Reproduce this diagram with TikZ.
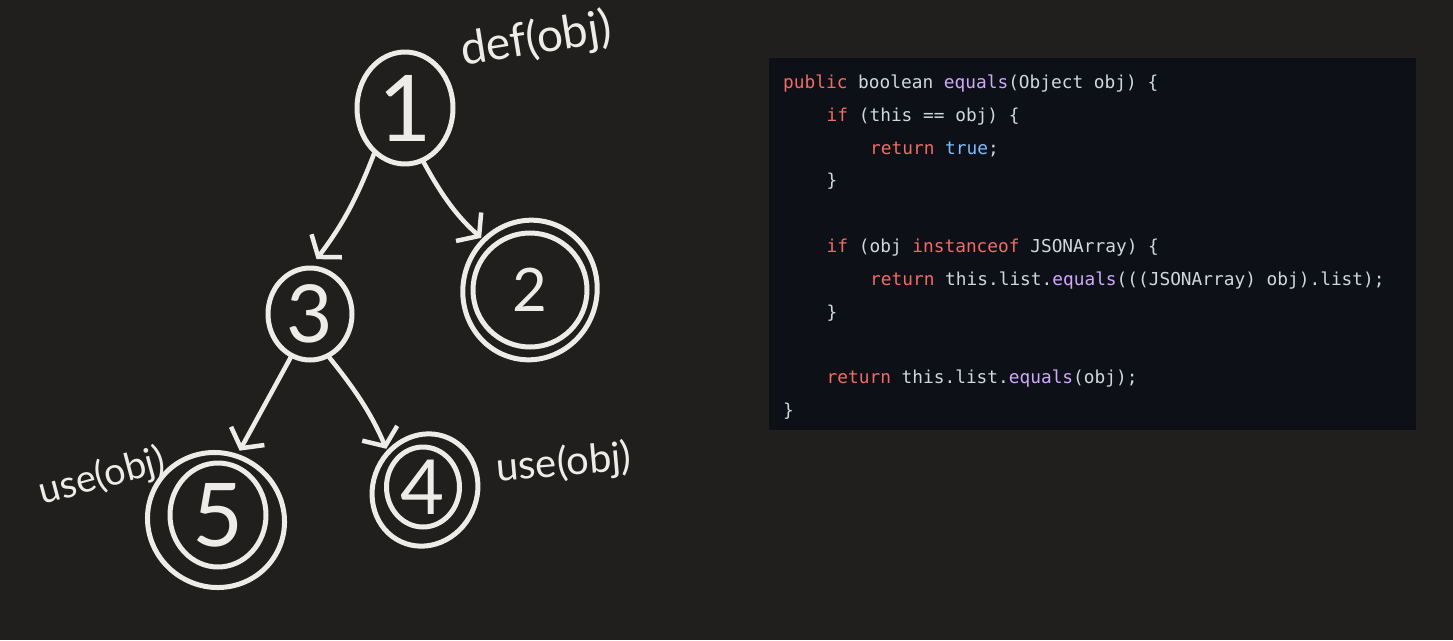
\documentclass[tikz,border=0pt]{standalone}
\usepackage{fontspec}
\setmonofont{DejaVu Sans Mono}
\newfontfamily\hand{Lato}
\usetikzlibrary{shapes.geometric,arrows.meta,calc}
\definecolor{bgc}{HTML}{201F1D}
\definecolor{codebg}{HTML}{0D1117}
\definecolor{inkc}{HTML}{EDECE8}
\definecolor{kw}{HTML}{F26B63}
\definecolor{fn}{HTML}{D2A8FF}
\definecolor{cst}{HTML}{79C0FF}
\definecolor{codetx}{HTML}{D0D7DE}
\newcommand{\K}[1]{\textcolor{kw}{#1}}
\newcommand{\F}[1]{\textcolor{fn}{#1}}
\newcommand{\C}[1]{\textcolor{cst}{#1}}
\tikzset{
  ink/.style={draw=inkc, line width=5pt, line cap=round, line join=round},
  num/.style={ellipse, ink, inner sep=0pt, text=inkc},
  arr/.style={draw=inkc, line width=4.5pt, line cap=round, line join=round,
    -{Straight Barb[length=14pt,width=38pt]}},
  codeline/.style={anchor=base west, inner sep=0pt, text=codetx,
    font=\ttfamily\fontsize{17.8}{20}\selectfont},
  lbl/.style={text=inkc, inner sep=0pt}
}
\begin{document}
\begin{tikzpicture}[x=1pt,y=-1pt]
\useasboundingbox (0,0) rectangle (1453,640);
\fill[bgc] (0,0) rectangle (1453,640);

% code panel
\node[fill=codebg, minimum width=647pt, minimum height=372pt, inner sep=0pt, anchor=north west] (code) at (769,58) {};
\node[codeline] (c1) at (783,88.5) {\K{public} boolean \F{equals}(Object obj) \{};
\node[codeline] (c2) at (826.5,121.3) {\K{if} (this == obj) \{};
\node[codeline] (c3) at (870,154.1) {\K{return} \C{true};};
\node[codeline] (c4) at (826.5,186.9) {\}};
\node[codeline] (c6) at (826.5,252.5) {\K{if} (obj \K{instanceof} JSONArray) \{};
\node[codeline] (c7) at (870,285.3) {\K{return} this.list.\F{equals}(((JSONArray) obj).list);};
\node[codeline] (c8) at (826.5,318.1) {\}};
\node[codeline] (c10) at (826.5,383.7) {\K{return} this.list.\F{equals}(obj);};
\node[codeline] (c11) at (783,416.5) {\}};

% tree nodes
\node[num, minimum width=96pt, minimum height=112pt, font=\hand\fontsize{92}{92}\selectfont] (n1) at (405,108) {1};
\node[num, minimum width=84pt, minimum height=92pt, font=\hand\fontsize{80}{80}\selectfont] (n3) at (310,314) {3};
\node[num, minimum width=114pt, minimum height=114pt, font=\hand\fontsize{60}{60}\selectfont] (n2) at (530,290) {2};
\node[num, minimum width=96pt, minimum height=104pt, font=\hand\fontsize{88}{88}\selectfont] (n5) at (218,515) {5};
\node[num, minimum width=73pt, minimum height=80pt, font=\hand\fontsize{76}{76}\selectfont] (n4) at (423,487) {4};

% outer loops of the double circles
\draw[ink] ($(n2)+(0,0)$) ellipse[x radius=67, y radius=70, rotate=-15];
\draw[ink] ($(n5)+(-2,5)$) ellipse[x radius=69, y radius=67, rotate=-30];
\draw[ink] ($(n4)+(2,3)$) ellipse[x radius=52, y radius=57, rotate=-25];

% labels
\node[lbl, rotate=9, font=\hand\fontsize{46}{46}\selectfont] (ldef) at (536,40) {def(obj)};
\node[lbl, rotate=15, font=\hand\fontsize{38}{38}\selectfont] (luse5) at (102,477) {use(obj)};
\node[lbl, rotate=5, font=\hand\fontsize{40}{40}\selectfont] (luse4) at (564,464) {use(obj)};

% connectors
\draw[arr, shorten >=8pt] (n1.236) to[bend left=8] (n3.88);
\draw[arr, shorten >=12pt] (n1.289) to[bend right=10] (n2.132);
\draw[arr, shorten >=14pt] (n3.246) to (n5.74);
\draw[arr, shorten >=14pt] (n3.294) to[bend left=8] (n4.141);
\end{tikzpicture}
\end{document}
